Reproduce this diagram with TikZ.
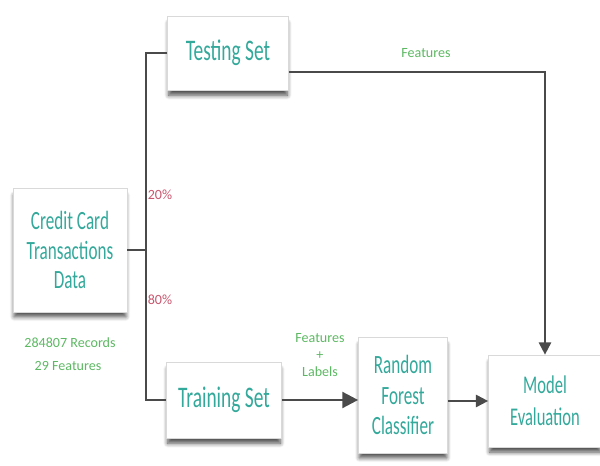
\documentclass[tikz,border=0pt]{standalone}
\usepackage{fontspec}
\setmainfont{Carlito}
\newfontfamily\boxfont{Carlito}[FakeStretch=0.65]
\usetikzlibrary{shadows.blur,arrows.meta}

\definecolor{boxtext}{HTML}{33A99B}
\definecolor{labgreen}{HTML}{5DB863}
\definecolor{labred}{HTML}{C8566E}
\definecolor{linegray}{HTML}{4A4A4A}

\tikzset{
  stepbox/.style={draw=black!15,fill=white,text=boxtext,align=center,
    inner sep=2pt,
    blur shadow={shadow xshift=0pt,shadow yshift=-3.5pt,shadow scale=0.98,
      shadow blur steps=6,shadow blur radius=2.5pt,shadow opacity=70}},
  link/.style={draw=linegray,line width=1.1pt},
  flow/.style={link,-{Triangle[length=7pt,width=7pt]}},
  lab/.style={font=\footnotesize,text=labgreen,align=center,inner sep=1pt}
}

\begin{document}
\begin{tikzpicture}[x=0.02cm,y=-0.02cm]

\useasboundingbox (0,0) rectangle (600,466);

% ============================================
% BOXES
% ============================================
        \node[stepbox,minimum width=114*0.02cm,minimum height=124*0.02cm,
              font=\boxfont\fontsize{15}{17}\selectfont] (data) at (70,250)
              {Credit Card\\Transactions\\Data};
        \node[stepbox,minimum width=121*0.02cm,minimum height=74*0.02cm,
              font=\boxfont\fontsize{17}{19}\selectfont] (test) at (228,53) {Testing Set};
        \node[stepbox,minimum width=115*0.02cm,minimum height=76*0.02cm,
              font=\boxfont\fontsize{17}{19}\selectfont] (train) at (224,400) {Training Set};
        \node[stepbox,minimum width=89*0.02cm,minimum height=116*0.02cm,
              font=\boxfont\fontsize{15}{17.5}\selectfont] (rfc) at (403,395)
              {Random\\Forest\\Classifier};
        \node[stepbox,minimum width=113*0.02cm,minimum height=92*0.02cm,
              font=\boxfont\fontsize{14.5}{18}\selectfont] (eval) at (545,401)
              {Model\\Evaluation};

% ============================================
% SPLIT
% ============================================
        \coordinate (split) at (146,250);
        \coordinate (top) at (146,53);
        \coordinate (bot) at (146,400);
        \draw[link] (data.east |- split) -- (split);
        \draw[link] (test.west) -- (top) -- (bot) -- (train.west |- bot);
        \node[font=\footnotesize,text=labred] (pct20) at (160,195) {20\%};
        \node[font=\footnotesize,text=labred] (pct80) at (160,300) {80\%};

        % Data labels
        \node[lab] (recs) at (70,343) {284807 Records};
        \node[lab] (feats) at (68,366) {29 Features};

% ============================================
% FLOW
% ============================================
        \coordinate (turn) at (545,72);
        \draw[flow] (test.east |- turn) -- (turn) -- (eval.north);
        \node[lab] (testfeat) at (426,53) {Features};
        \draw[flow,line width=1.5pt,-{Triangle[length=9pt,width=9pt]}]
              (train.east) -- (rfc.west |- train.east);
        \node[lab] (trainfeat) at (320,355) {Features\\+\\Labels};
        \draw[flow] (rfc.east |- eval) -- (eval.west);

\end{tikzpicture}
\end{document}
